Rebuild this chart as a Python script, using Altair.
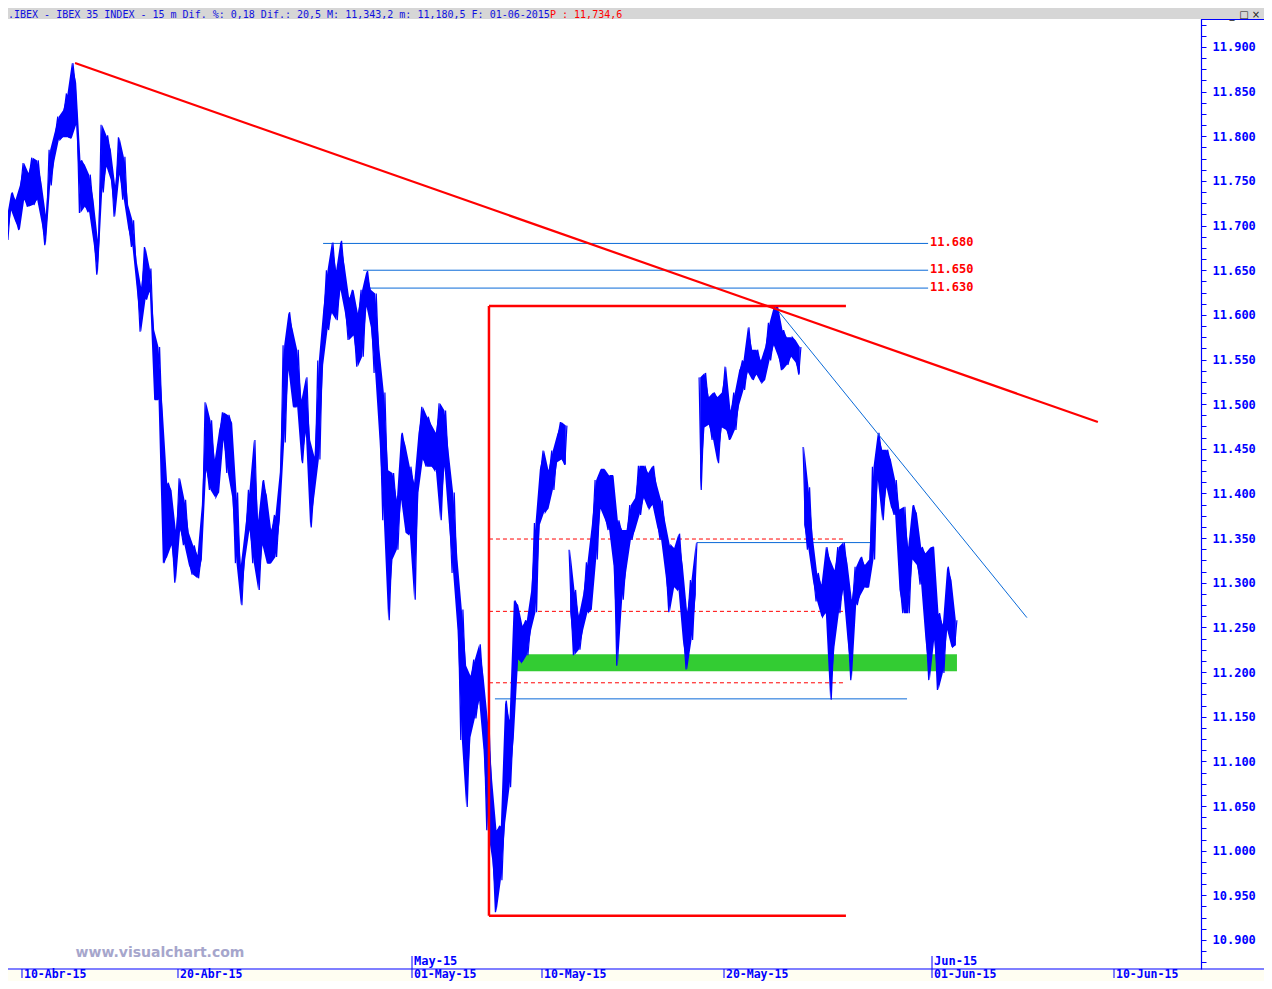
import altair as alt
import pandas as pd

# ---------------- data -----------------
SESSIONS = [
    "2015-04-09", "2015-04-10", "2015-04-13", "2015-04-14", "2015-04-15", "2015-04-16", "2015-04-17",
    "2015-04-20", "2015-04-21", "2015-04-22", "2015-04-23", "2015-04-24",
    "2015-04-27", "2015-04-28", "2015-04-29", "2015-04-30",
    "2015-05-04", "2015-05-05", "2015-05-06", "2015-05-07", "2015-05-08",
    "2015-05-11", "2015-05-12", "2015-05-13", "2015-05-14", "2015-05-15",
    "2015-05-18", "2015-05-19", "2015-05-20", "2015-05-21", "2015-05-22",
    "2015-05-25", "2015-05-26", "2015-05-27", "2015-05-28", "2015-05-29",
    "2015-06-01",
]
SLOTS = 6  # readings per session; each reading = high and low of ~1h20 of trading
GAP_AFTER = ["2015-05-11", "2015-05-18", "2015-05-22"]  # price gaps left open on the chart

HIGH = [
    [11709, 11737, 11729, 11745],
    [11770, 11759, 11776, 11773, 11748, 11712],
    [11785, 11804, 11822, 11829, 11848, 11882],
    [11860, 11773, 11768, 11757, 11729, 11684],
    [11813, 11801, 11785, 11745, 11799, 11777],
    [11723, 11706, 11659, 11631, 11676, 11652],
    [11583, 11564, 11491, 11412, 11404, 11359],
    [11417, 11393, 11356, 11342, 11331, 11387],
    [11502, 11482, 11438, 11471, 11491, 11488],
    [11479, 11401, 11320, 11361, 11404, 11460],
    [11370, 11415, 11398, 11359, 11376, 11424],
    [11566, 11603, 11583, 11561, 11505, 11530],
    [11460, 11441, 11549, 11605, 11650, 11681],
    [11650, 11683, 11654, 11619, 11628, 11602],
    [11628, 11649, 11628, 11624, 11561, 11513],
    [11426, 11423, 11393, 11468, 11454, 11430],
    [11412, 11468, 11497, 11486, 11477, 11468],
    [11501, 11493, 11445, 11401, 11326, 11270],
    [11207, 11196, 11214, 11231, 11196, 11146],
    [11079, 11023, 11028, 11168, 11146, 11280],
    [11275, 11252, 11258, 11291, 11367, 11427],
    [11448, 11426, 11448, 11466, 11480, 11476],
    [11337, 11292, 11263, 11287, 11323, 11365],
    [11415, 11427, 11427, 11420, 11420, 11370],
    [11359, 11359, 11387, 11395, 11431, 11431],
    [11423, 11431, 11410, 11392, 11367, 11342],
    [11339, 11355, 11319, 11267, 11303, 11345],
    [11530, 11535, 11508, 11513, 11508, 11513],
    [11542, 11493, 11513, 11538, 11549, 11586],
    [11561, 11561, 11549, 11564, 11591, 11609],
    [11609, 11583, 11575, 11575, 11572, 11564],
    [11452, 11407, 11351, 11311, 11298, 11340],
    [11326, 11314, 11340, 11345, 11322, 11281],
    [11318, 11329, 11320, 11326, 11430, 11468],
    [11449, 11449, 11438, 11415, 11382, 11385],
    [11340, 11387, 11378, 11340, 11333, 11339],
    [11340, 11266, 11253, 11318, 11303, 11258],
]
LOW = [
    [11684, 11717, 11704, 11695],
    [11729, 11721, 11723, 11729, 11704, 11678],
    [11745, 11773, 11796, 11799, 11799, 11798],
    [11813, 11714, 11721, 11715, 11681, 11645],
    [11737, 11766, 11751, 11710, 11757, 11729],
    [11697, 11676, 11628, 11581, 11617, 11626],
    [11505, 11505, 11322, 11329, 11342, 11300],
    [11359, 11342, 11320, 11309, 11305, 11326],
    [11426, 11404, 11396, 11401, 11460, 11423],
    [11396, 11322, 11275, 11326, 11359, 11322],
    [11292, 11342, 11322, 11322, 11329, 11370],
    [11457, 11538, 11497, 11497, 11434, 11468],
    [11362, 11398, 11438, 11544, 11583, 11602],
    [11594, 11628, 11603, 11572, 11577, 11542],
    [11553, 11609, 11586, 11535, 11460, 11370],
    [11258, 11326, 11337, 11393, 11356, 11354],
    [11281, 11401, 11438, 11430, 11430, 11426],
    [11370, 11430, 11367, 11311, 11247, 11124],
    [11049, 11127, 11148, 11168, 11113, 11023],
    [10990, 10931, 10967, 11031, 11071, 11127],
    [11214, 11211, 11219, 11247, 11267, 11365],
    [11379, 11383, 11404, 11435, 11438, 11432],
    [11267, 11219, 11225, 11247, 11267, 11270],
    [11326, 11383, 11371, 11359, 11319, 11207],
    [11281, 11315, 11348, 11359, 11376, 11395],
    [11383, 11387, 11364, 11348, 11309, 11267],
    [11295, 11292, 11236, 11203, 11236, 11287],
    [11404, 11474, 11477, 11460, 11434, 11474],
    [11471, 11460, 11471, 11499, 11516, 11536],
    [11527, 11533, 11524, 11527, 11549, 11566],
    [11553, 11538, 11544, 11553, 11547, 11533],
    [11365, 11337, 11303, 11279, 11262, 11266],
    [11169, 11228, 11266, 11292, 11236, 11191],
    [11275, 11286, 11295, 11295, 11326, 11415],
    [11370, 11407, 11385, 11376, 11292, 11266],
    [11266, 11326, 11320, 11298, 11236, 11191],
    [11236, 11180, 11199, 11247, 11228, 11230],
]

# x positions are in trading-session units (0 = 10-Abr-15)
TICK_SESSIONS = [0, 6, 15, 20, 27, 35, 42]
TICK_LABELS = ["10-Abr-15", "20-Abr-15", "01-May-15", "10-May-15", "20-May-15", "01-Jun-15", "10-Jun-15"]
MONTH_SESSIONS = [15, 35]
MONTH_LABELS = ["May-15", "Jun-15"]

RESIST_LEVELS = [11680, 11650, 11630]
RESIST_LABELS = ["11.680", "11.650", "11.630"]
RESIST_START = [11.58, 13.12, 13.35]
RESIST_END = [34.85, 34.85, 34.85]

RANGE_HIGH = 11610
RANGE_LOW = 10927
RANGE_START = 17.96
RANGE_END = 31.69
FIB_LEVELS = [11349, 11268, 11188]

SUPPORT_LEVELS = [11345, 11170]
SUPPORT_START = [25.96, 18.19]
SUPPORT_END = [32.65, 34.04]

RED_TREND_X = [2.04, 41.38]
RED_TREND_Y = [11882, 11480]
BLUE_TREND_X = [28.96, 38.65]
BLUE_TREND_Y = [11609, 11261]

GREEN_X = [18.92, 35.96]
GREEN_Y = [11201, 11220]

HEADER_MAIN = ".IBEX - IBEX 35 INDEX -  15 m Dif. %: 0,18 Dif.: 20,5 M: 11,343,2 m: 11,180,5 F: 01-06-2015"
HEADER_PRICE = "P : 11,734,6"
WATERMARK = "www.visualchart.com"

# ---------------- tables -----------------
rows, band_rows = [], []
seg = 0
step = 1.0 / SLOTS
for i, (s, hs, ls) in enumerate(zip(SESSIONS, HIGH, LOW)):
    start = SLOTS - len(hs)
    for j, (h, l) in enumerate(zip(hs, ls)):
        k = start + j
        t = (i - 1) + (k + 0.5) * step
        band_rows.append({"seg": seg, "t": t, "hi": h, "lo": l})
        pair = (h, l) if k % 2 == 0 else (l, h)
        rows.append({"seg": seg, "t": t - step / 4, "price": pair[0]})
        rows.append({"seg": seg, "t": t + step / 4, "price": pair[1]})
    if s in GAP_AFTER:
        seg += 1
price_df = pd.DataFrame(rows)
price_df["n"] = range(len(price_df))
band_df = pd.DataFrame(band_rows)

resist_df = pd.DataFrame({"x0": RESIST_START, "x1": RESIST_END, "y": RESIST_LEVELS, "label": RESIST_LABELS})
fib_df = pd.DataFrame({"x0": [RANGE_START] * 3, "x1": [RANGE_END] * 3, "y": FIB_LEVELS})
support_df = pd.DataFrame({"x0": SUPPORT_START, "x1": SUPPORT_END, "y": SUPPORT_LEVELS})
box_h_df = pd.DataFrame({"x0": [RANGE_START, RANGE_START], "x1": [RANGE_END, RANGE_END], "y": [RANGE_HIGH, RANGE_LOW]})
box_v_df = pd.DataFrame({"x0": [RANGE_START], "y0": [RANGE_LOW], "y1": [RANGE_HIGH]})
red_df = pd.DataFrame({"x0": [RED_TREND_X[0]], "x1": [RED_TREND_X[1]], "y0": [RED_TREND_Y[0]], "y1": [RED_TREND_Y[1]]})
diag_df = pd.DataFrame({"x0": [BLUE_TREND_X[0]], "x1": [BLUE_TREND_X[1]], "y0": [BLUE_TREND_Y[0]], "y1": [BLUE_TREND_Y[1]]})
green_df = pd.DataFrame({"x0": [GREEN_X[0]], "x1": [GREEN_X[1]], "y0": [GREEN_Y[0]], "y1": [GREEN_Y[1]]})
ticks_df = pd.DataFrame({"t": TICK_SESSIONS, "label": TICK_LABELS})
month_df = pd.DataFrame({"t": MONTH_SESSIONS, "label": MONTH_LABELS})
one = pd.DataFrame({"a": [0]})

# ---------------- geometry -----------------
W, H = 1193, 954
PR, PB = 63, 12
BLUE = "#0000FF"
LINE_BLUE = "#0a6ad8"
RED = "#FF0000"
MONO = "DejaVu Sans Mono"

xs = alt.Scale(domain=[-0.53846, 45.34615], nice=False, zero=False)
ys = alt.Scale(domain=[10867.5, 11935.8], nice=False, zero=False)

Y_TICKS = [10875 + 12.5 * i for i in range(85)]
YAX = alt.Axis(
    orient="right", values=Y_TICKS, title=None, grid=False,
    labelExpr="datum.value % 50 == 0 ? replace(format(datum.value, ',.0f'), ',', '.') : ''",
    labelOverlap=False, labelFont=MONO, labelFontWeight="bold", labelFontSize=12,
    labelColor=BLUE, labelPadding=6, tickSize=5, tickColor=BLUE, tickWidth=1,
    domainColor=BLUE, domainWidth=1.2)


def X(f):
    return alt.X(f, scale=xs, axis=None)


def Y(f):
    return alt.Y(f, scale=ys, axis=YAX)


bottom_strip = alt.Chart(one).mark_rect(color="#FFFEF2").encode(
    x=alt.value(0), x2=alt.value(W + PR), y=alt.value(H + 1), y2=alt.value(H + PB))
header_band = alt.Chart(one).mark_rect(color="#D6D6D6").encode(
    x=alt.value(0), x2=alt.value(W + PR), y=alt.value(-7), y2=alt.value(4))

green = alt.Chart(green_df).mark_rect(color="#33CC33").encode(
    x=X("x0:Q"), x2="x1:Q", y=Y("y0:Q"), y2="y1:Q")

fib = alt.Chart(fib_df).mark_rule(color=RED, strokeWidth=1, strokeDash=[4, 3]).encode(
    x=X("x0:Q"), x2="x1:Q", y=Y("y:Q"))

support = alt.Chart(support_df).mark_rule(color=LINE_BLUE, strokeWidth=1).encode(
    x=X("x0:Q"), x2="x1:Q", y=Y("y:Q"))

resist = alt.Chart(resist_df).mark_rule(color=LINE_BLUE, strokeWidth=1).encode(
    x=X("x0:Q"), x2="x1:Q", y=Y("y:Q"))

resist_labels = alt.Chart(resist_df).mark_text(
    color=RED, font=MONO, fontWeight="bold", fontSize=12, align="left", baseline="middle", dx=2, dy=-1
).encode(x=X("x1:Q"), y=Y("y:Q"), text="label:N")

band = alt.Chart(band_df).mark_area(color=BLUE, opacity=1).encode(
    x=X("t:Q"), y=Y("lo:Q"), y2="hi:Q", detail="seg:N")

price = alt.Chart(price_df).mark_line(color=BLUE, strokeWidth=1.2).encode(
    x=X("t:Q"), y=Y("price:Q"), detail="seg:N", order="n:Q")

blue_diag = alt.Chart(diag_df).mark_rule(color=LINE_BLUE, strokeWidth=1).encode(
    x=X("x0:Q"), x2="x1:Q", y=Y("y0:Q"), y2="y1:Q")
red_trend = alt.Chart(red_df).mark_rule(color=RED, strokeWidth=2.2).encode(
    x=X("x0:Q"), x2="x1:Q", y=Y("y0:Q"), y2="y1:Q")

box_h = alt.Chart(box_h_df).mark_rule(color=RED, strokeWidth=2.5).encode(
    x=X("x0:Q"), x2="x1:Q", y=Y("y:Q"))
box_v = alt.Chart(box_v_df).mark_rule(color=RED, strokeWidth=2.5).encode(
    x=X("x0:Q"), y=Y("y0:Q"), y2="y1:Q")

# custom time axis
x_line = alt.Chart(one).mark_rule(color=BLUE, strokeWidth=1.2).encode(
    x=alt.value(0), x2=alt.value(W + PR), y=alt.value(H))
top_border = alt.Chart(one).mark_rule(color=BLUE, strokeWidth=1.2).encode(
    x=alt.value(W), x2=alt.value(W + PR), y=alt.value(4.5))
x_ticks = alt.Chart(ticks_df).mark_rule(color=BLUE, strokeWidth=1).encode(
    x=X("t:Q"), y=alt.value(H), y2=alt.value(H + 9))
x_labels = alt.Chart(ticks_df).mark_text(
    color=BLUE, font=MONO, fontWeight="bold", fontSize=11.5, align="left", baseline="alphabetic", dx=2
).encode(x=X("t:Q"), y=alt.value(H + 9), text="label:N")
m_ticks = alt.Chart(month_df).mark_rule(color=BLUE, strokeWidth=1).encode(
    x=X("t:Q"), y=alt.value(H - 13), y2=alt.value(H))
m_labels = alt.Chart(month_df).mark_text(
    color=BLUE, font=MONO, fontWeight="bold", fontSize=12, align="left", baseline="middle", dx=2
).encode(x=X("t:Q"), y=alt.value(H - 8), text="label:N")

watermark = alt.Chart(pd.DataFrame({"label": [WATERMARK]})).mark_text(
    color="#A6A6CC", font="DejaVu Sans", fontWeight="bold", fontSize=14, align="center", baseline="middle"
).encode(x=alt.value(152), y=alt.value(H - 16), text="label:N")

header_main = alt.Chart(pd.DataFrame({"label": [HEADER_MAIN]})).mark_text(
    color="#1010E0", font=MONO, fontSize=10, align="left", baseline="alphabetic"
).encode(x=alt.value(0), y=alt.value(2.5), text="label:N")
header_price = alt.Chart(pd.DataFrame({"label": [HEADER_PRICE]})).mark_text(
    color=RED, font=MONO, fontSize=10, align="left", baseline="alphabetic"
).encode(x=alt.value(542), y=alt.value(2.5), text="label:N")
buttons = alt.Chart(pd.DataFrame({"label": ["_", "\u25a1", "\u00d7"], "px": [1224, 1236, 1248]})).mark_text(
    color="#222222", font="DejaVu Sans", fontSize=10, align="center", baseline="alphabetic"
).encode(x=alt.X("px:Q", scale=None, axis=None), y=alt.value(2.5), text="label:N")

chart = alt.layer(
    bottom_strip, header_band, green, fib, support, resist, band, price, blue_diag, box_h, box_v, red_trend,
    resist_labels, x_line, top_border, x_ticks, x_labels, m_ticks, m_labels, watermark,
    header_main, header_price, buttons,
).properties(
    width=W, height=H,
    autosize=alt.AutoSizeParams(type="none"),
    padding={"left": 0, "top": 7, "right": PR, "bottom": PB},
    background="white",
).configure_view(strokeWidth=0)

chart.save("out.html", embed_options={"renderer": "svg", "actions": False})
